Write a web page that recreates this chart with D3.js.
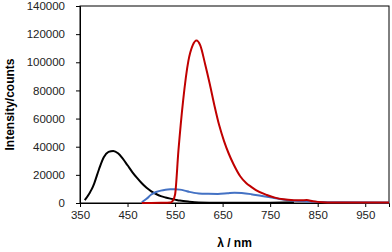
<!DOCTYPE html>
<html><head><meta charset="utf-8">
<script src="https://cdn.jsdelivr.net/npm/d3@7"></script>
<style>body{margin:0;background:#fff}svg{display:block}</style>
</head><body>
<svg id="c" width="392" height="252"></svg>
<script>
const blackWl = [360,370,375,380,390,400,410,420,430,440,450,460,470,480,490,500,510,520,530,540,550,560,580,600,650,700,750,800];
const blackInt = [2000,7000,10000,14000,24000,32500,36300,37000,35300,31500,26800,22000,17800,14000,10800,8300,6400,4900,3900,3100,2400,1700,900,400,150,100,250,500];
const blueWl = [480,490,500,510,520,530,540,550,560,570,580,590,600,620,640,660,675,690,710,730,750,770,790,810,830,860,900,1000];
const blueInt = [500,3000,6000,7800,8800,9400,9700,9800,9500,8800,7900,7200,6800,6500,6400,6900,7300,7100,6300,5200,4100,2900,2000,1400,1000,700,450,300];
const redWl = [480,500,520,540,545,550,557,567,578,587,595,603,613,623,633,643,653,663,673,687,700,710,720,743,760,778,800,815,827,840,850,870,900,1000];
const redInt = [0,0,100,300,1500,6000,37000,73000,101000,112000,115500,112000,99000,84600,69000,55000,44000,35000,27500,19000,14000,11500,9200,5700,3800,2600,2000,1900,2100,1200,800,400,300,300];
const xTicks = [350,450,550,650,750,850,950];
const yTicks = [0,20000,40000,60000,80000,100000,120000,140000];

const svg = d3.select('#c');
const L = 80, R = 389, T = 6, B = 203;
const x = d3.scaleLinear().domain([350,1000]).range([L,R]);
const y = d3.scaleLinear().domain([0,140000]).range([B,T]);
const font = '"Liberation Sans", Arial, sans-serif';

svg.append('rect').attr('x',L).attr('y',T).attr('width',R-L).attr('height',B-T)
  .attr('fill','none').attr('stroke','#000').attr('stroke-width',1);

const xa = svg.append('g').attr('transform',`translate(0,${B})`)
  .call(d3.axisBottom(x).tickValues(xTicks).tickSize(4).tickPadding(4).tickFormat(d3.format('d')));
const ya = svg.append('g').attr('transform',`translate(${L},0)`)
  .call(d3.axisLeft(y).tickValues(yTicks).tickSize(4).tickPadding(10).tickFormat(d3.format('d')));
[xa,ya].forEach(a=>{
  a.selectAll('path').attr('stroke','#000');
  a.selectAll('line').attr('stroke','#000');
  a.selectAll('text').attr('font-family',font).attr('font-size',11.5).attr('fill','#222');
});
ya.selectAll('text').attr('dx','-1');

const line = d3.line().x(d=>x(d[0])).y(d=>y(d[1])).curve(d3.curveMonotoneX);
const series = [
  {wl: blackWl, v: blackInt, c: '#000000'},
  {wl: blueWl, v: blueInt, c: '#4472C4'},
  {wl: redWl, v: redInt, c: '#C00000'}
];
series.forEach(s=>{
  svg.append('path').datum(s.wl.map((w,i)=>[w,s.v[i]]))
    .attr('d',line).attr('fill','none').attr('stroke',s.c).attr('stroke-width',2);
});

svg.append('text').attr('x',(L+R)/2).attr('y',247).attr('text-anchor','middle')
  .attr('font-family',font).attr('font-size',12).attr('font-weight','bold').text('λ / nm');
svg.append('text').attr('transform',`translate(14,${(T+B)/2}) rotate(-90)`).attr('text-anchor','middle')
  .attr('font-family',font).attr('font-size',12).attr('font-weight','bold').text('Intensity/counts');
</script>
</body></html>
